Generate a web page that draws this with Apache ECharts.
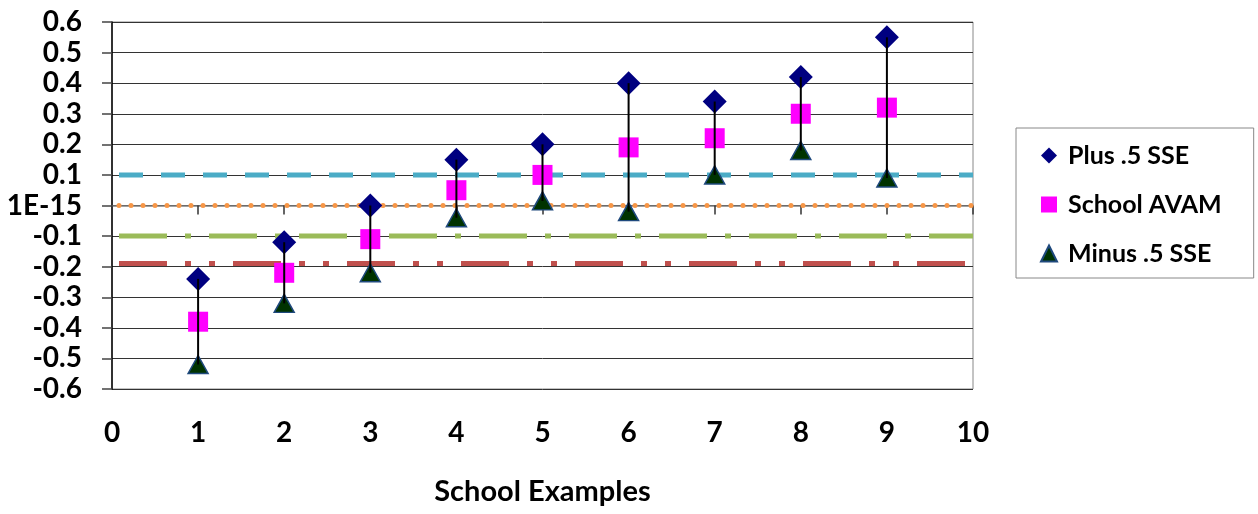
<!DOCTYPE html>
<html>
<head>
<meta charset="utf-8">
<script src="https://cdn.jsdelivr.net/npm/echarts@6/dist/echarts.min.js"></script>
<style>html,body{margin:0;padding:0;background:#fff;}#c{width:1258px;height:514px;}</style>
</head>
<body>
<div id="c"></div>
<script>
var schools = [1, 2, 3, 4, 5, 6, 7, 8, 9];
var plusSSE = [-0.24, -0.12, 0.0, 0.15, 0.20, 0.40, 0.34, 0.42, 0.55];
var schoolAVAM = [-0.38, -0.22, -0.11, 0.05, 0.10, 0.19, 0.22, 0.30, 0.32];
var minusSSE = [-0.52, -0.32, -0.22, -0.04, 0.015, -0.02, 0.10, 0.18, 0.09];
var refValues = [0.1, 0, -0.1, -0.19];
var refXRange = [0, 10];
var yTicks = [-0.6, 0.6, 0.1];
var xTicks = [0, 10, 1];

var FONT = 'Lato';
var WEIGHT = 'bold';
function pts(vals) { return schools.map(function (s, i) { return [s, vals[i]]; }); }
function refLine(v) { return refXRange.map(function (x) { return [x, v]; }); }

var refStyles = [
  { color: '#4BACC6', width: 5, type: [24, 18], dashOffset: 35, cap: 'butt' },
  { color: '#F79646', width: 5, type: [0, 12], dashOffset: 5, cap: 'round' },
  { color: '#9BBB59', width: 5, type: [48, 18, 6, 18], dashOffset: 83, cap: 'butt' },
  { color: '#C0504D', width: 5, type: [48, 18, 6, 18, 6, 18], dashOffset: 107, cap: 'butt' }
];

var series = refValues.map(function (v, i) {
  return {
    type: 'line', name: 'ref' + i, data: refLine(v), symbol: 'none',
    lineStyle: refStyles[i], z: 1, silent: true
  };
});

series.push({
  type: 'scatter', name: 'Plus .5 SSE', data: pts(plusSSE), symbol: 'diamond', symbolSize: 24,
  itemStyle: { color: '#000080', opacity: 1 }, z: 3
});
series.push({
  type: 'scatter', name: 'School AVAM', data: pts(schoolAVAM), symbol: 'rect', symbolSize: 20,
  itemStyle: { color: '#FF00FF', opacity: 1 }, z: 3
});
series.push({
  type: 'scatter', name: 'Minus .5 SSE', data: pts(minusSSE), symbol: 'triangle', symbolSize: [20, 18],
  itemStyle: { color: '#003300', borderColor: '#1F497D', borderWidth: 1.5, opacity: 1 }, z: 3
});
series.push({
  type: 'custom', name: 'range', z: 5, silent: true,
  data: schools.map(function (s, i) { return [s, plusSSE[i], minusSSE[i]]; }),
  renderItem: function (params, api) {
    var p1 = api.coord([api.value(0), api.value(1)]);
    var p2 = api.coord([api.value(0), api.value(2)]);
    return { type: 'line', shape: { x1: p1[0], y1: p1[1], x2: p2[0], y2: p2[1] },
      style: { stroke: '#000', lineWidth: 2 } };
  }
});

var chart = echarts.init(document.getElementById('c'), null, { renderer: 'canvas' });
chart.setOption({
  animation: false,
  backgroundColor: '#fff',
  grid: { left: 112, right: 285, top: 22, bottom: 125, show: true, borderColor: '#888', borderWidth: 1 },
  legend: {
    data: ['Plus .5 SSE', 'School AVAM', 'Minus .5 SSE'],
    orient: 'vertical', left: 1016, top: 128,
    padding: [15, 32, 12, 24],
    itemGap: 24, itemWidth: 16, itemHeight: 16,
    borderColor: '#888', borderWidth: 1,
    textStyle: { fontFamily: FONT, fontWeight: WEIGHT, fontSize: 25, color: '#000', lineHeight: 24, padding: [0, 0, 0, 6] }
  },
  xAxis: [{
    type: 'value', min: xTicks[0], max: xTicks[1], interval: xTicks[2], position: 'bottom',
    axisLine: { show: false, onZero: false }, axisTick: { show: false }, splitLine: { show: false },
    axisLabel: { fontFamily: FONT, fontWeight: WEIGHT, fontSize: 28, color: '#000', margin: 30 },
    name: 'School Examples', nameLocation: 'middle', nameGap: 88,
    nameTextStyle: { fontFamily: FONT, fontWeight: WEIGHT, fontSize: 29, color: '#000' }
  }, {
    type: 'value', min: xTicks[0], max: xTicks[1], interval: xTicks[2], position: 'bottom',
    axisLine: { show: true, onZero: true, lineStyle: { color: '#808080', width: 1.5 } },
    axisTick: { show: true, length: 9, lineStyle: { color: '#333', width: 1.5 } },
    axisLabel: { show: false }, splitLine: { show: false }
  }],
  yAxis: {
    type: 'value', min: yTicks[0], max: yTicks[1], interval: yTicks[2],
    axisLine: { show: true, onZero: false, lineStyle: { color: '#000', width: 1.5 } },
    axisTick: { show: true, length: 10, lineStyle: { color: '#444', width: 1.5 } },
    splitLine: { show: true, lineStyle: { color: '#333', width: 1 } },
    axisLabel: {
      fontFamily: FONT, fontWeight: WEIGHT, fontSize: 28, color: '#000', margin: 30,
      formatter: function (v) { return Math.abs(v) < 1e-9 ? '1E-15' : (Math.round(v * 10) / 10).toFixed(1); }
    }
  },
  series: series
});
</script>
</body>
</html>
